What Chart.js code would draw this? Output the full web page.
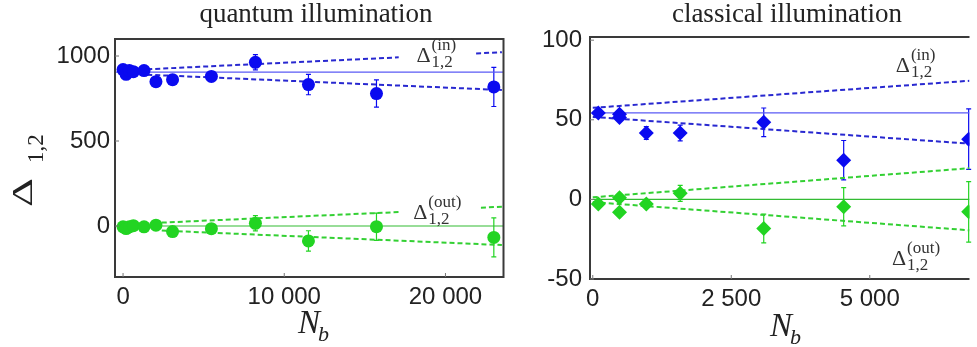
<!DOCTYPE html>
<html>
<head>
<meta charset="utf-8">
<script src="https://cdn.jsdelivr.net/npm/chart.js@4.4.0/dist/chart.umd.min.js"></script>
<style>
  body { margin: 0; background: #fff; width: 977px; height: 347px; overflow: hidden; position: relative; }
  .panel { position: absolute; top: 0; height: 347px; }
  #left { left: 0; width: 510px; }
  #right { left: 510px; width: 467px; }
</style>
</head>
<body>
<div class="panel" id="left"><canvas id="quantum"></canvas></div>
<div class="panel" id="right"><canvas id="classical"></canvas></div>
<script>
// quantum illumination panel
const qNb = [0, 190, 390, 640, 1300, 2040, 3070, 5480, 8210, 11500, 15720, 23000];
const qIn = [920, 892, 914, 908, 914, 849, 861, 880, 963, 832, 779, 818];
const qInErr = [0, 0, 0, 0, 0, 0, 0, 8, 45, 60, 80, 115];
const qOut = [-5, -15, -5, 2, -5, 5, -33, -16, 16, -88, -4, -67];
const qOutErr = [0, 0, 0, 0, 0, 0, 0, 8, 45, 60, 80, 115];
const qFitNb = [-500, 23600];
const qInFit = [905, 905];
const qOutFit = [0, 0];
const qInUpNb = [1500, 17100, 19500, 21900, 23500];
const qInUp = [922, 992, null, 1015, 1022];
const qInLoNb = [1500, 23500];
const qInLo = [890, 800];
const qOutUpNb = [2400, 17100, 19500, 22200, 23500];
const qOutUp = [20, 82, null, 108, 113];
const qOutLoNb = [2400, 23500];
const qOutLo = [-27, -112];
const qXTicks = [0, 10000, 20000];
const qYTicks = [0, 500, 1000];

// classical illumination panel
const cNb = [100, 483, 483, 966, 1578, 3086, 4529, 6785];
const cIn = [54.3, 53.5, 51.5, 41.7, 41.7, 48.4, 24.6, 37.8];
const cInErr = [0, 0, 0, 4, 5, 9, 12.4, 19];
const cOut = [-2.9, 1, -8, -2.9, 3.8, -18.3, -4.6, -7.8];
const cOutErr = [0, 0, 0, 2, 5, 9, 12, 19];
const cFitNb = [0, 6800];
const cInFit = [54.3, 54.3];
const cOutFit = [0, 0];
const cInUp = [57.5, 74.5];
const cInLo = [51.8, 35];
const cOutUp = [1.3, 19.6];
const cOutLo = [-1.7, -19.4];
const cXTicks = [0, 2500, 5000];
const cYTicks = [-50, 0, 50, 100];

const BLUE = "#0a0af0";
const GREEN = "#22d422";
const pts = (xs, ys) => xs.map((x, i) => ({ x: x, y: ys[i] }));
const fmt = (v) => String(v).replace(/\B(?=(\d{3})+(?!\d))/g, " ");

function drawDelta(ctx, x, y, sup) {
  ctx.font = '22px "Liberation Serif"';
  ctx.textAlign = "left";
  ctx.textBaseline = "alphabetic";
  ctx.fillText("\u0394", x, y);
  const w = ctx.measureText("\u0394").width + 1;
  ctx.font = '17px "Liberation Serif"';
  ctx.fillText(sup, x + w, y - 12);
  ctx.fillText("1,2", x + w, y + 5);
}

const decor = {
  id: "decor",
  beforeDatasetsDraw(chart) {
    const ctx = chart.ctx;
    const xs = chart.scales.x, ys = chart.scales.y;
    ctx.save();
    ctx.lineWidth = 1.2;
    chart.data.datasets.forEach((ds) => {
      if (!ds.errors) return;
      ctx.strokeStyle = ds.backgroundColor;
      ds.data.forEach((p, i) => {
        const e = ds.errors[i];
        if (!e) return;
        const px = xs.getPixelForValue(p.x);
        const y1 = ys.getPixelForValue(p.y + e);
        const y2 = ys.getPixelForValue(p.y - e);
        ctx.beginPath();
        ctx.moveTo(px, y1); ctx.lineTo(px, y2);
        ctx.moveTo(px - 2.5, y1); ctx.lineTo(px + 2.5, y1);
        ctx.moveTo(px - 2.5, y2); ctx.lineTo(px + 2.5, y2);
        ctx.stroke();
      });
    });
    ctx.restore();
  },
  afterDraw(chart, args, opts) {
    const ctx = chart.ctx;
    const a = chart.chartArea;
    const xs = chart.scales.x, ys = chart.scales.y;
    ctx.save();
    // frame
    ctx.strokeStyle = "#3a3a3a";
    ctx.lineWidth = 2;
    ctx.beginPath();
    ctx.moveTo(a.right, a.top); ctx.lineTo(a.left, a.top);
    ctx.lineTo(a.left, a.bottom); ctx.lineTo(a.right, a.bottom);
    if (opts.closed) ctx.closePath();
    ctx.stroke();
    // small inner ticks
    ctx.lineWidth = 1;
    ctx.strokeStyle = "#777";
    ctx.beginPath();
    ys.ticks.forEach((t) => {
      const py = ys.getPixelForValue(t.value);
      ctx.moveTo(a.left, py); ctx.lineTo(a.left + 4, py);
    });
    xs.ticks.forEach((t) => {
      const px = xs.getPixelForValue(t.value);
      ctx.moveTo(px, a.bottom); ctx.lineTo(px, a.bottom - 4);
    });
    ctx.stroke();
    // title
    ctx.fillStyle = "#222";
    ctx.font = '27px "Liberation Serif"';
    ctx.textAlign = "center";
    ctx.textBaseline = "alphabetic";
    ctx.fillText(opts.title, opts.titleX, 22);
    // x-axis title N_b
    ctx.textAlign = "left";
    ctx.font = 'italic 33px "Liberation Serif"';
    ctx.fillText("N", opts.nbX, opts.nbY);
    const nw = ctx.measureText("N").width;
    ctx.font = 'italic 22px "Liberation Serif"';
    ctx.fillText("b", opts.nbX + nw - 2, opts.nbY + 8);
    // y-axis title
    if (opts.yTitle) {
      ctx.save();
      ctx.translate(32, 207);
      ctx.rotate(-Math.PI / 2);
      ctx.save();
      ctx.scale(1.5, 1);
      ctx.font = '30px "Liberation Serif"';
      ctx.fillText("\u0394", 0, 0);
      ctx.restore();
      ctx.font = '23px "Liberation Serif"';
      ctx.fillText("1,2", 44, 11);
      ctx.restore();
    }
    // curve labels
    ctx.fillStyle = "#333";
    opts.labels.forEach((l) => {
      drawDelta(ctx, xs.getPixelForValue(l.x), ys.getPixelForValue(l.y), l.sup);
    });
    ctx.restore();
  }
};

function makePanel(el, cfg) {
  const datasets = [
    { data: pts(cfg.nb, cfg.inn), errors: cfg.innErr, backgroundColor: BLUE, borderColor: BLUE,
      showLine: false, pointStyle: cfg.marker, pointRadius: cfg.radius, pointBorderWidth: 0 },
    { data: pts(cfg.nb, cfg.out), errors: cfg.outErr, backgroundColor: GREEN, borderColor: GREEN,
      showLine: false, pointStyle: cfg.marker, pointRadius: cfg.radius, pointBorderWidth: 0 },
    { data: pts(cfg.fitNb, cfg.inFit), showLine: true, borderColor: "#5a5af5", borderWidth: 1.2, pointRadius: 0 },
    { data: pts(cfg.fitNb, cfg.outFit), showLine: true, borderColor: "#33bb33", borderWidth: 1.2, pointRadius: 0 },
    { data: pts(cfg.inUpNb, cfg.inUp), showLine: true, borderColor: "#2828d0", borderWidth: 2, borderDash: [5, 3], pointRadius: 0, spanGaps: false },
    { data: pts(cfg.inLoNb, cfg.inLo), showLine: true, borderColor: "#2828d0", borderWidth: 2, borderDash: [5, 3], pointRadius: 0 },
    { data: pts(cfg.outUpNb, cfg.outUp), showLine: true, borderColor: "#33d033", borderWidth: 2, borderDash: [5, 3], pointRadius: 0, spanGaps: false },
    { data: pts(cfg.outLoNb, cfg.outLo), showLine: true, borderColor: "#33d033", borderWidth: 2, borderDash: [5, 3], pointRadius: 0 }
  ];
  const tickFont = { family: '"Liberation Sans", Arial, sans-serif', size: 24 };
  return new Chart(el, {
    type: "scatter",
    data: { datasets: datasets },
    plugins: [decor],
    options: {
      responsive: true,
      maintainAspectRatio: false,
      animation: false,
      layout: { padding: cfg.padding },
      plugins: {
        legend: { display: false },
        tooltip: { enabled: false },
        decor: cfg.decor
      },
      scales: {
        x: {
          type: "linear", min: cfg.xMin, max: cfg.xMax,
          grid: { display: false, drawTicks: false }, border: { display: false },
          ticks: { font: tickFont, color: "#222", padding: 6, maxRotation: 0, callback: (v) => fmt(v) },
          afterBuildTicks: (s) => { s.ticks = cfg.xTicks.map((v) => ({ value: v })); },
          afterFit: (s) => { s.height = cfg.xHeight; }
        },
        y: {
          type: "linear", min: cfg.yMin, max: cfg.yMax,
          grid: { display: false, drawTicks: false }, border: { display: false },
          ticks: { font: tickFont, color: "#222", padding: cfg.yPad, callback: (v) => String(v) },
          afterBuildTicks: (s) => { s.ticks = cfg.yTicks.map((v) => ({ value: v })); },
          afterFit: (s) => { s.width = cfg.yWidth; }
        }
      }
    }
  });
}

makePanel(document.getElementById("quantum"), {
  nb: qNb, inn: qIn, innErr: qInErr, out: qOut, outErr: qOutErr,
  fitNb: qFitNb, inFit: qInFit, outFit: qOutFit,
  inUpNb: qInUpNb, inUp: qInUp, inLoNb: qInLoNb, inLo: qInLo,
  outUpNb: qOutUpNb, outUp: qOutUp, outLoNb: qOutLoNb, outLo: qOutLo,
  xTicks: qXTicks, yTicks: qYTicks,
  xMin: -500, xMax: 23600, yMin: -300, yMax: 1100,
  marker: "circle", radius: 6.5,
  padding: { top: 39, right: 5, bottom: 0, left: 0 },
  xHeight: 70, yWidth: 115, yPad: 5,
  decor: {
    closed: true, title: "quantum illumination", titleX: 316, nbX: 298, nbY: 333, yTitle: true,
    labels: [{ x: 18200, y: 963, sup: "(in)" }, { x: 18000, y: 39, sup: "(out)" }]
  }
});

makePanel(document.getElementById("classical"), {
  nb: cNb, inn: cIn, innErr: cInErr, out: cOut, outErr: cOutErr,
  fitNb: cFitNb, inFit: cInFit, outFit: cOutFit,
  inUpNb: cFitNb, inUp: cInUp, inLoNb: cFitNb, inLo: cInLo,
  outUpNb: cFitNb, outUp: cOutUp, outLoNb: cFitNb, outLo: cOutLo,
  xTicks: cXTicks, yTicks: cYTicks,
  xMin: -50, xMax: 6800, yMin: -50, yMax: 102,
  marker: "rectRot", radius: 7.5,
  padding: { top: 37, right: 0, bottom: 0, left: 0 },
  xHeight: 68, yWidth: 80, yPad: 8,
  decor: {
    closed: false, title: "classical illumination", titleX: 277, nbX: 260, nbY: 336, yTitle: false,
    labels: [{ x: 5470, y: 80, sup: "(in)" }, { x: 5400, y: -41, sup: "(out)" }]
  }
});
</script>
</body>
</html>
